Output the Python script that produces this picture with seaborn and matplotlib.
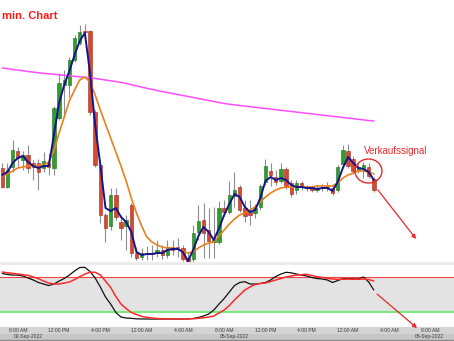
import matplotlib
matplotlib.use("Agg")
import matplotlib.pyplot as plt
import seaborn as sns
import numpy as np
import pandas as pd
from matplotlib.patches import Ellipse, FancyArrowPatch

# ---------------- data (30 min candles, price in chart units) ----------------
opens = [132, 113, 133, 149, 140, 145, 137, 137, 132, 137, 132, 182, 215, 215, 240, 257, 269, 269, 188, 135,
         85, 74, 105, 78, 74, 95, 47, 43, 46, 47, 47, 50, 45, 53, 53, 52, 42, 41, 68, 80,
         70, 58, 58, 92, 88, 104, 113, 92, 88, 87, 93, 118, 129, 123, 119, 131, 117, 110, 117, 113,
         113, 110, 113, 114, 112, 110, 136, 149, 141, 130, 132, 133, 121]
closes = [113, 130, 150, 142, 145, 132, 133, 128, 139, 133, 192, 217, 220, 240, 262, 268, 268, 188, 135, 85,
          72, 105, 83, 72, 80, 47, 42, 47, 47, 46, 50, 45, 53, 50, 52, 41, 38, 67, 79, 67,
          59, 60, 92, 88, 105, 110, 90, 84, 85, 92, 114, 134, 125, 118, 131, 113, 106, 117, 113, 112,
          110, 112, 112, 113, 107, 133, 150, 134, 129, 133, 135, 124, 110]
highs = [137, 137, 160, 153, 149, 155, 140, 141, 148, 147, 194, 227, 230, 243, 265, 275, 276, 270, 190, 137,
         87, 112, 112, 85, 85, 97, 53, 52, 54, 55, 60, 55, 60, 60, 62, 55, 48, 75, 95, 97,
         92, 93, 99, 100, 119, 128, 115, 100, 100, 96, 116, 141, 137, 130, 137, 133, 120, 120, 119, 115,
         115, 115, 116, 118, 116, 135, 155, 156, 144, 137, 138, 137, 123]
lows = [112, 112, 128, 133, 130, 127, 120, 110, 128, 125, 125, 180, 183, 203, 238, 255, 264, 185, 133, 77,
        58, 70, 80, 60, 50, 43, 40, 40, 40, 40, 43, 41, 42, 45, 43, 39, 35, 38, 60, 42,
        42, 42, 56, 84, 86, 93, 88, 78, 75, 82, 90, 115, 114, 115, 117, 111, 103, 106, 110, 109,
        108, 108, 109, 109, 105, 108, 133, 132, 126, 127, 122, 122, 108]

ma_fast = [125, 128, 137, 142, 144, 138, 134, 132, 134, 134, 165, 197, 215, 229, 245, 259, 267, 227, 175, 135,
           92, 89, 92, 83, 78, 68, 48, 45, 46, 46, 47, 47, 50, 51, 51, 48, 39, 50, 64, 73,
           68, 60, 72, 85, 96, 106, 103, 93, 88, 90, 102, 119, 123, 120, 122, 120, 115, 113, 113, 112,
           112, 111, 112, 112, 109, 118, 132, 143, 137, 132, 131, 128, 120]
ma_mid = [124, 126, 129, 132, 133, 134, 134, 135, 135, 138, 149, 167, 183, 199, 210, 220, 223, 218, 205, 190,
          176, 162, 148, 134, 119, 102, 87, 74, 63, 58, 55, 53, 52, 52, 51, 49, 47, 48, 52, 55,
          57, 58, 64, 70, 76, 81, 85, 87, 90, 93, 98, 103, 107, 110, 112, 113, 113, 113, 113, 113,
          113, 114, 114, 114, 114, 117, 122, 125, 127, 129, 129, 128, 126]
ma_long = [232, 231.3, 230.6, 229.9, 229.2, 228.5, 227.9, 227.2, 226.7, 226.2, 225.7, 225.2, 224.7, 224.2,
           223.7, 223.2, 222.7, 222.2, 221.5, 220.8, 220, 219.2, 218.4, 217.6, 216.5, 215.3, 214.1, 212.9,
           211.7, 210.6, 209.5, 208.5, 207.5, 206.5, 205.5, 204.5, 203.5, 202.5, 201.5, 200.5, 199.5, 198.5,
           197.5, 196.5, 195.8, 195.1, 194.5, 193.9, 193.3, 192.7, 192.1, 191.5, 190.9, 190.3, 189.7, 189.1,
           188.5, 187.9, 187.3, 186.7, 186.1, 185.5, 184.9, 184.3, 183.7, 183.1, 182.5, 181.9, 181.3, 180.7,
           180.1, 179.5, 179]

stoch_k = [86.5, 84.8, 83.9, 83.9, 82.2, 78.8, 75.4, 71.1, 68.5, 65.9, 68.5, 73.6, 77.9, 83.9, 90.8, 96.8,
           97.1, 89.9, 78.8, 63.4, 46.2, 34.2, 19.7, 12.0, 10.2, 9.7, 8.8, 8.6, 8.5, 8.4, 8.4, 8.5, 8.5, 8.4,
           8.4, 8.5, 8.6, 9.4, 11.1, 13.7, 17.1, 23.9, 34.2, 43.6, 54.8, 65.9, 71.1, 72.5, 68.5, 68.5, 69.4,
           71.1, 75.4, 81.4, 85.6, 88.6, 87.7, 85.6, 83.9, 82.2, 79.6, 77.9, 77.1, 75.4, 71.1, 74.5, 77.6,
           77.9, 77.6, 77.1, 80.5, 72.0, 58.2]
stoch_d = [89.1, 87.7, 86.8, 85.6, 84.4, 83.4, 80.5, 77.6, 73.6, 70.2, 68.5, 68.5, 70.2, 71.9, 76.2, 81.0,
           85.6, 88.6, 88.6, 83.9, 73.6, 62.5, 47.1, 34.2, 26.5, 19.7, 16.3, 13.1, 11.4, 10.2, 9.4, 8.9, 8.7,
           8.6, 8.5, 8.5, 8.6, 9.0, 9.7, 10.6, 12.0, 13.7, 18.8, 23.9, 31.7, 41.1, 49.7, 58.2, 63.4, 67.7,
           69.4, 70.2, 72.8, 75.4, 77.9, 80.5, 82.2, 83.9, 84.4, 85.1, 83.1, 81.0, 79.6, 78.3, 77.1, 76.6,
           76.7, 77.1, 76.7, 76.6, 77.1, 76.2, 73.6]
stoch_levels = [80, 20]

tick_labels = ["8:00 AM", "12:00 PM", "4:00 PM", "12:00 AM", "4:00 AM", "8:00 AM",
               "12:00 PM", "4:00 PM", "12:00 AM", "4:00 AM", "8:00 AM"]
tick_bars = [3, 11, 19, 27, 35, 43, 51, 59, 67, 75, 83]
date_labels = ["02-Sep-2022", "05-Sep-2022", "06-Sep-2022"]
date_bars = [5, 45, 82.7]

title = "min. Chart"
signal_text = "Verkaufssignal"

df = pd.DataFrame({"bar": np.arange(len(opens)), "open": opens, "high": highs, "low": lows,
                   "close": closes, "fast": ma_fast, "mid": ma_mid, "long": ma_long,
                   "k": stoch_k, "d": stoch_d})

# ---------------- figure ----------------
sns.set_style("white")
plt.rcParams["font.family"] = ["Liberation Sans", "DejaVu Sans"]

W, H = 454, 341
fig = plt.figure(figsize=(W / 100, H / 100), dpi=100, facecolor="#ececec")


def rect(y_top, y_bot):
    return [0, (H - y_bot) / H, 1, (y_bot - y_top) / H]


ax = fig.add_axes(rect(0, 262))
axo = fig.add_axes(rect(265, 327))
axb = fig.add_axes(rect(327, 341))

XL = (-0.446, 87.54)
for a in (ax, axo, axb):
    a.set_xlim(*XL)
    a.set_xticks([])
    a.set_yticks([])
    for s in a.spines.values():
        s.set_visible(False)

# ---- main price panel ----
ax.set_facecolor("white")
ax.set_ylim(38, 300)
up = df["close"] >= df["open"]
ax.vlines(df["bar"], df["low"], df["high"], color="#8e8e8e", lw=0.8, zorder=2)
body_bot = np.minimum(df["open"], df["close"])
body_h = np.maximum((df["close"] - df["open"]).abs(), 1.2)
ax.bar(df["bar"], body_h, bottom=body_bot, width=0.66,
       color=np.where(up, "#2f9e2f", "#d8472f"),
       edgecolor=np.where(up, "#1d6d1d", "#9c2e1e"), linewidth=0.4, zorder=3)

sns.lineplot(data=df, x="bar", y="long", ax=ax, color="#ff4dff", lw=1.1,
             estimator=None, legend=False, zorder=4)
sns.lineplot(data=df, x="bar", y="mid", ax=ax, color="#e8801e", lw=1.2,
             estimator=None, legend=False, zorder=5)
sns.lineplot(data=df, x="bar", y="fast", ax=ax, color="#14148c", lw=1.4,
             estimator=None, legend=False, zorder=6)
ax.set_xlabel("")
ax.set_ylabel("")

# annotations in main panel
ax.add_patch(Ellipse((70.97, 129), 5.23, 24, fill=False, edgecolor="#e8282a", lw=1.0, zorder=7))
ax.text(70.1, 148.5, signal_text, color="#e8282a", fontsize=7, ha="left", va="center", zorder=7)
ax.annotate("", xy=(80.2, 61), xytext=(72.8, 110),
            arrowprops=dict(arrowstyle="-|>", color="#e8282a", lw=0.9, mutation_scale=6,
                            shrinkA=0, shrinkB=0), zorder=7)

fig.text(2 / W, 1 - 16 / H, title, color="#ff1a1a", fontweight="bold", fontsize=8,
         ha="left", va="center")

# ---- oscillator panel ----
axo.set_facecolor("white")
axo.set_ylim(-5.2, 101.1)
axo.axhspan(stoch_levels[1], stoch_levels[0], color="#e3e3e3", zorder=0, lw=0)
axo.axhline(stoch_levels[0], color="#ee4444", lw=0.8, zorder=1)
axo.axhline(stoch_levels[1], color="#6ee86e", lw=1.3, zorder=1)
sns.lineplot(data=df, x="bar", y="k", ax=axo, color="#111111", lw=0.9,
             estimator=None, legend=False, zorder=3)
sns.lineplot(data=df, x="bar", y="d", ax=axo, color="#ff2a2a", lw=1.1,
             estimator=None, legend=False, zorder=4)
axo.set_xlabel("")
axo.set_ylabel("")

# ---- time axis band ----
axb.set_ylim(0, 1)
axb.set_facecolor("#d3d3d3")
axb.axhspan(0, 0.5, color="#c7c7c7", lw=0)
axb.axhline(0.04, color="#8a8a8a", lw=1.0)
for xb, lab in zip(tick_bars, tick_labels):
    axb.text(xb, 0.74, lab, fontsize=3.6, color="#3c3c3c", ha="center", va="center")
for xb, lab in zip(date_bars, date_labels):
    axb.text(xb, 0.3, lab, fontsize=3.6, color="#3c3c3c", ha="center", va="center")

# arrow in oscillator panel (figure coordinates)
fig.add_artist(FancyArrowPatch((377 / W, 1 - 294 / H), (417 / W, 1 - 328 / H),
                               transform=fig.transFigure, arrowstyle="-|>", color="#e8282a",
                               lw=0.9, mutation_scale=6, shrinkA=0, shrinkB=0, zorder=10))

fig.savefig("out.png", dpi=100, facecolor=fig.get_facecolor())
